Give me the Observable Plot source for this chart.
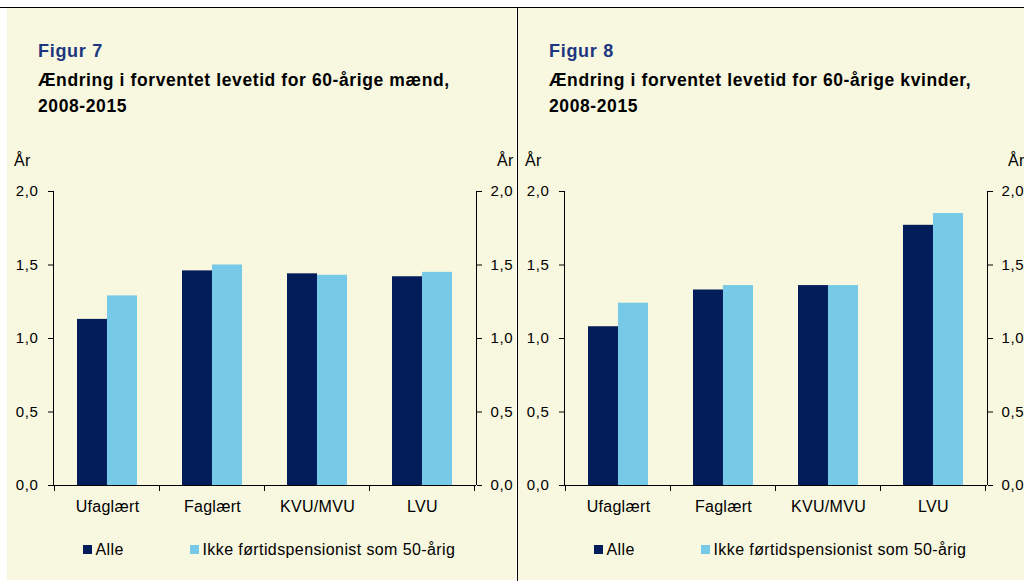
<!DOCTYPE html>
<html>
<head>
<meta charset="utf-8">
<script src="https://cdn.jsdelivr.net/npm/d3@7"></script>
<script src="https://cdn.jsdelivr.net/npm/@observablehq/plot@0.6"></script>
<style>
  html, body { margin: 0; padding: 0; background: #fff; }
  body { width: 1024px; height: 581px; overflow: hidden; position: relative; font-family: "Liberation Sans", Arial, sans-serif; }
  .topline { position: absolute; left: 0; top: 7px; width: 1024px; height: 1px; background: #000; }
  .divider { position: absolute; left: 517px; top: 7px; width: 1px; height: 574px; background: #000; }
  .panel { position: absolute; top: 8px; height: 572px; background: #F8F7DF; overflow: visible; }
  .fig { position: absolute; left: 31px; top: 32.5px; font-size: 18px; line-height: 20px; font-weight: bold; color: #1C3680; letter-spacing: 0.7px; white-space: nowrap; }
  .title { position: absolute; left: 31px; top: 58.8px; font-size: 17.5px; line-height: 26px; font-weight: bold; color: #000; letter-spacing: 0.6px; white-space: nowrap; }
  .unit { position: absolute; top: 144px; font-size: 16px; line-height: 18px; color: #000; letter-spacing: 0.3px; }
  .chartwrap { position: absolute; left: 0; top: 167px; width: 509px; height: 345px; }
  .chartwrap svg { display: block; }
  .chartwrap text { letter-spacing: 0.3px; }
  .chartwrap g[aria-label="y-axis tick label"], .chartwrap g[aria-label="y-axis tick label"] text { font-size: 15px !important; letter-spacing: 0.6px; }
  .chartwrap g[aria-label="x-axis tick label"], .chartwrap g[aria-label="x-axis tick label"] text { font-size: 16px !important; }
  .legend-item { position: absolute; top: 532.5px; font-size: 16px; line-height: 18px; color: #000; letter-spacing: 0.4px; white-space: nowrap; }
  .swatch { position: absolute; top: 4.5px; width: 9px; height: 9px; }
</style>
</head>
<body>
<div class="topline"></div>
<div id="p1" class="panel" style="left:7px;width:509px;"></div>
<div id="p2" class="panel" style="left:518px;width:510px;"></div>
<div class="divider"></div>
<script>
// ---- data ----
const categories = ["Ufaglært", "Faglært", "KVU/MVU", "LVU"];
const series = ["Alle", "Ikke førtidspensionist som 50-årig"];
const menAlle = [1.13, 1.46, 1.44, 1.42];
const menIkke = [1.29, 1.50, 1.43, 1.45];
const womenAlle = [1.08, 1.33, 1.36, 1.77];
const womenIkke = [1.24, 1.36, 1.36, 1.85];
const yTicks = [0, 0.5, 1.0, 1.5, 2.0];
const yDomain = [0, 2];
const colors = ["#031D5B", "#76C9E7"];
const figures = [
  {id: "p1", fig: "Figur 7", title: ["Ændring i forventet levetid for 60-årige mænd,", "2008-2015"], alle: menAlle, ikke: menIkke},
  {id: "p2", fig: "Figur 8", title: ["Ændring i forventet levetid for 60-årige kvinder,", "2008-2015"], alle: womenAlle, ikke: womenIkke}
];
const unitLabel = "År";

const fmt = d => d3.format(".1f")(d).replace(".", ",");

function frameMark(index, scales, values, dimensions) {
  const {x, y} = scales;
  const {width, marginLeft, marginRight} = dimensions;
  const x0 = marginLeft, x1 = width - marginRight;
  const yTop = y(yDomain[1]), yBot = y(yDomain[0]);
  const n = categories.length;
  const st = (x && x.step) ? x.step() : (x1 - x0) / n;
  const bw = (x && x.bandwidth) ? x.bandwidth() : st * 0.567;
  const g = d3.create("svg:g").attr("stroke", "#000").attr("fill", "none").attr("shape-rendering", "crispEdges");
  g.append("line").attr("x1", x0).attr("x2", x0).attr("y1", yTop).attr("y2", yBot);
  g.append("line").attr("x1", x1).attr("x2", x1).attr("y1", yTop).attr("y2", yBot);
  g.append("line").attr("x1", x0).attr("x2", x1).attr("y1", yBot).attr("y2", yBot);
  const bounds = categories.map(c => x(c) - (st - bw) / 2).concat([x(categories[n - 1]) + bw + (st - bw) / 2]);
  for (const b of bounds) {
    g.append("line").attr("x1", b).attr("x2", b).attr("y1", yBot).attr("y2", yBot + 6);
  }
  return g.node();
}

function chart(alle, ikke) {
  const W = 509, H = 345;
  const padInner = 0.433;
  const mL = 46, mR = 40;
  const step = (W - mL - mR) / categories.length;
  const bw = step * (1 - padInner);
  const rows = categories.flatMap((c, i) => [
    {cat: c, series: series[0], v: alle[i]},
    {cat: c, series: series[1], v: ikke[i]}
  ]);
  return Plot.plot({
    width: W, height: H,
    marginLeft: mL, marginRight: mR, marginTop: 16, marginBottom: 35,
    style: {background: "transparent", fontFamily: "'Liberation Sans', Arial, sans-serif", fontSize: "15px", color: "#000", overflow: "visible"},
    x: {domain: categories, paddingInner: padInner, paddingOuter: padInner / 2, label: null},
    y: {domain: yDomain, label: null},
    color: {domain: series, range: colors},
    marks: [
      Plot.barY(rows.filter(d => d.series === series[0]), {x: "cat", y: "v", fill: "series", insetRight: bw / 2}),
      Plot.barY(rows.filter(d => d.series === series[1]), {x: "cat", y: "v", fill: "series", insetLeft: bw / 2}),
      Plot.axisY({anchor: "left", ticks: yTicks, tickSize: 5, tickPadding: 10, tickFormat: fmt, label: null, fontSize: 15}),
      Plot.axisY({anchor: "right", ticks: yTicks, tickSize: 5, tickPadding: 9, tickFormat: fmt, label: null, fontSize: 15}),
      Plot.axisX({tickSize: 0, tickPadding: 15, label: null, fontSize: 16}),
      frameMark
    ]
  });
}

const legendLefts = [76, 183];
for (const f of figures) {
  const p = document.getElementById(f.id);
  const fig = document.createElement("div");
  fig.className = "fig"; fig.textContent = f.fig; p.appendChild(fig);
  const t = document.createElement("div");
  t.className = "title"; t.innerHTML = f.title.map(s => s.replace(/&/g, "&amp;")).join("<br>"); p.appendChild(t);
  const u1 = document.createElement("div");
  u1.className = "unit"; u1.style.left = "7px"; u1.textContent = unitLabel; p.appendChild(u1);
  const u2 = document.createElement("div");
  u2.className = "unit"; u2.style.left = "490px"; u2.textContent = unitLabel; p.appendChild(u2);
  const wrap = document.createElement("div");
  wrap.className = "chartwrap";
  p.appendChild(wrap);
  try {
    wrap.appendChild(chart(f.alle, f.ikke));
  } catch (e) {
    const err = document.createElement("pre");
    err.textContent = String(e && e.stack || e);
    wrap.appendChild(err);
  }
  series.forEach((s, i) => {
    const item = document.createElement("div");
    item.className = "legend-item";
    item.style.left = legendLefts[i] + "px";
    const sw = document.createElement("span");
    sw.className = "swatch"; sw.style.left = "0px"; sw.style.background = colors[i];
    const tx = document.createElement("span");
    tx.style.marginLeft = "12.5px"; tx.textContent = s;
    item.appendChild(sw); item.appendChild(tx);
    p.appendChild(item);
  });
}
</script>
</body>
</html>
